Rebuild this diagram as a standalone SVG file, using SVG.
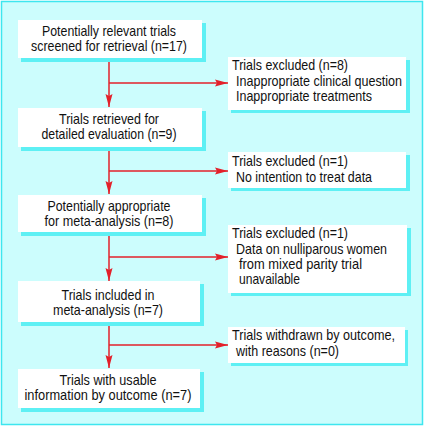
<svg xmlns="http://www.w3.org/2000/svg" width="424" height="426" viewBox="0 0 424 426">
<style>
text{font-family:"Liberation Sans",Arial,sans-serif;font-size:14.2px;fill:#111}
.c{text-anchor:middle}
.box{fill:#fff}
.sh{fill:#5ef0f4}
.ln{stroke:#e3202a;stroke-width:1.5;fill:none}
</style>
<defs>
<marker id="ah" viewBox="0 0 13 8" refX="13" refY="4" markerWidth="13" markerHeight="8" markerUnits="userSpaceOnUse" orient="auto">
<path d="M0,0.5 L13,4 L0,7.5 L2,4 Z" fill="#e3202a"/>
</marker>
</defs>
<rect x="1.5" y="1.5" width="421" height="423" fill="#ccfdfd" stroke="#3ee6ef" stroke-width="1.5"/>
<g id="connectors">
<path class="ln" d="M109,58 V107" marker-end="url(#ah)"/>
<path class="ln" d="M109,83 H228" marker-end="url(#ah)"/>
<path class="ln" d="M109,147 V194" marker-end="url(#ah)"/>
<path class="ln" d="M109,171 H228" marker-end="url(#ah)"/>
<path class="ln" d="M109,232 V281" marker-end="url(#ah)"/>
<path class="ln" d="M109,257 H228" marker-end="url(#ah)"/>
<path class="ln" d="M109,322 V368" marker-end="url(#ah)"/>
<path class="ln" d="M109,345 H228" marker-end="url(#ah)"/>
</g>
<g id="n1">
<rect class="sh" x="21" y="23" width="185" height="39"/>
<rect class="box" x="18" y="20" width="184" height="38"/>
<text class="c" x="109" y="36" textLength="134" lengthAdjust="spacingAndGlyphs">Potentially relevant trials</text>
<text class="c" x="109" y="51" textLength="156" lengthAdjust="spacingAndGlyphs">screened for retrieval (n=17)</text>
</g>
<g id="n2">
<rect class="sh" x="21" y="111" width="185" height="40"/>
<rect class="box" x="18" y="108" width="184" height="39"/>
<text class="c" x="109" y="124" textLength="100" lengthAdjust="spacingAndGlyphs">Trials retrieved for</text>
<text class="c" x="109" y="139" textLength="135" lengthAdjust="spacingAndGlyphs">detailed evaluation (n=9)</text>
</g>
<g id="n3">
<rect class="sh" x="21" y="198" width="185" height="38"/>
<rect class="box" x="18" y="195" width="184" height="37"/>
<text class="c" x="109" y="211" textLength="123" lengthAdjust="spacingAndGlyphs">Potentially appropriate</text>
<text class="c" x="109" y="226" textLength="129" lengthAdjust="spacingAndGlyphs">for meta-analysis (n=8)</text>
</g>
<g id="n4">
<rect class="sh" x="21" y="284" width="183" height="42"/>
<rect class="box" x="18" y="281" width="182" height="41"/>
<text class="c" x="108" y="300" textLength="93" lengthAdjust="spacingAndGlyphs">Trials included in</text>
<text class="c" x="108" y="315" textLength="110" lengthAdjust="spacingAndGlyphs">meta-analysis (n=7)</text>
</g>
<g id="n5">
<rect class="sh" x="21" y="372" width="183" height="40"/>
<rect class="box" x="18" y="369" width="182" height="39"/>
<text class="c" x="108" y="385" textLength="97" lengthAdjust="spacingAndGlyphs">Trials with usable</text>
<text class="c" x="108" y="400" textLength="167" lengthAdjust="spacingAndGlyphs">information by outcome (n=7)</text>
</g>
<g id="e1">
<rect class="sh" x="231" y="60" width="179" height="53"/>
<rect class="box" x="228" y="57" width="178" height="53"/>
<text x="232" y="70" textLength="116" lengthAdjust="spacingAndGlyphs">Trials excluded (n=8)</text>
<text x="236" y="86" textLength="166" lengthAdjust="spacingAndGlyphs">Inappropriate clinical question</text>
<text x="236" y="101" textLength="136" lengthAdjust="spacingAndGlyphs">Inappropriate treatments</text>
</g>
<g id="e2">
<rect class="sh" x="231" y="155" width="179" height="36"/>
<rect class="box" x="228" y="152" width="178" height="36"/>
<text x="232" y="166" textLength="116" lengthAdjust="spacingAndGlyphs">Trials excluded (n=1)</text>
<text x="236" y="182" textLength="136" lengthAdjust="spacingAndGlyphs">No intention to treat data</text>
</g>
<g id="e3">
<rect class="sh" x="231" y="228" width="180" height="68"/>
<rect class="box" x="228" y="225" width="179" height="68"/>
<text x="232" y="238" textLength="116" lengthAdjust="spacingAndGlyphs">Trials excluded (n=1)</text>
<text x="236" y="254" textLength="151" lengthAdjust="spacingAndGlyphs">Data on nulliparous women</text>
<text x="239" y="269" textLength="123" lengthAdjust="spacingAndGlyphs">from mixed parity trial</text>
<text x="239" y="284" textLength="61" lengthAdjust="spacingAndGlyphs">unavailable</text>
</g>
<g id="e4">
<rect class="sh" x="231" y="330" width="177" height="36"/>
<rect class="box" x="228" y="327" width="177" height="36"/>
<text x="232" y="340" textLength="163" lengthAdjust="spacingAndGlyphs">Trials withdrawn by outcome,</text>
<text x="236" y="356" textLength="103" lengthAdjust="spacingAndGlyphs">with reasons (n=0)</text>
</g>
</svg>
